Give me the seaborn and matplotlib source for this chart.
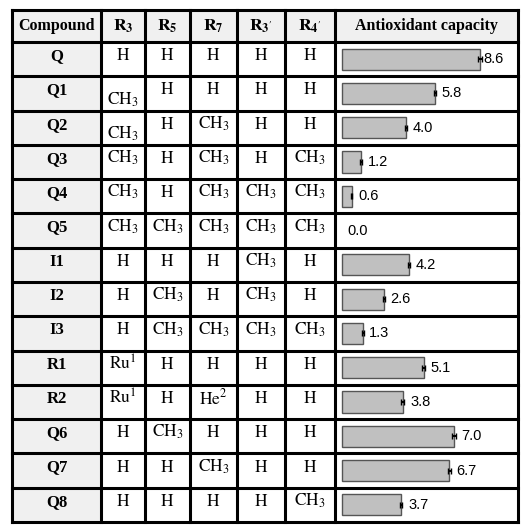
import matplotlib
matplotlib.use("Agg")
import matplotlib.pyplot as plt
import seaborn as sns
import pandas as pd

compounds = ["Q","Q1","Q2","Q3","Q4","Q5","I1","I2","I3","R1","R2","Q6","Q7","Q8"]
H, C = "H", "CH_3"
r3  = [H, C, C, C, C, C, H, H, H, "Ru^1", "Ru^1", H, H, H]
r5  = [H, H, H, H, H, C, H, C, C, H, H, C, H, H]
r7  = [H, H, C, C, C, C, H, H, C, H, "He^2", H, C, H]
r3p = [H, H, H, H, C, C, C, C, C, H, H, H, H, H]
r4p = [H, H, H, C, C, C, H, H, C, H, H, H, H, C]
capacity = [8.6, 5.8, 4.0, 1.2, 0.6, 0.0, 4.2, 2.6, 1.3, 5.1, 3.8, 7.0, 6.7, 3.7]
errors   = [0.12, 0.08, 0.08, 0.05, 0.05, 0.0, 0.08, 0.06, 0.05, 0.1, 0.1, 0.1, 0.1, 0.08]
headers = ["Compound", "R_3", "R_5", "R_7", "R_{3'}", "R_{4'}", "Antioxidant capacity"]

plt.rcParams["mathtext.fontset"] = "stix"
W = 527
fig = plt.figure(figsize=(W/100, W/100), dpi=100)
ax = fig.add_axes([0, 0, 1, 1])
ax.set_xlim(0, W); ax.set_ylim(W, 0); ax.axis("off")

cols = [12, 101, 145, 190, 237, 285, 335, 518]
top, hdr_bot, bot = 10, 42, 522
n = len(compounds)
rh = (bot - hdr_bot) / n
ser = "Liberation Serif"

ax.add_patch(plt.Rectangle((cols[0], top), cols[-1]-cols[0], hdr_bot-top, color="#f0f0f0", zorder=0))
ax.add_patch(plt.Rectangle((cols[0], hdr_bot), cols[1]-cols[0], bot-hdr_bot, color="#f0f0f0", zorder=0))
for x in cols:
    ax.plot([x, x], [top, bot], color="black", lw=2.2, zorder=3)
ys = [top, hdr_bot] + [hdr_bot + rh*(i+1) for i in range(n)]
for y in ys:
    ax.plot([cols[0], cols[-1]], [y, y], color="black", lw=2.2, zorder=3)

for j, h in enumerate(headers):
    xc = (cols[j] + cols[j+1]) / 2
    if j in (0, 6):
        ax.text(xc, (top+hdr_bot)/2, h, ha="center", va="center", fontsize=11.5, fontweight="bold", family=ser)
    else:
        ax.text(xc, (top+hdr_bot)/2, "$\\mathbf{" + h + "}$", ha="center", va="center", fontsize=12.5)

table = [r3, r5, r7, r3p, r4p]
for i in range(n):
    yc = hdr_bot + rh*(i+0.5)
    ax.text((cols[0]+cols[1])/2, yc-3, compounds[i], ha="center", va="center", fontsize=12, fontweight="bold", family=ser)
    for j, col in enumerate(table):
        xc = (cols[j+1] + cols[j+2]) / 2
        v = col[i]
        dy = 6 if (i in (1, 2) and j == 0) else -4
        ax.text(xc, yc+dy, "$\\mathrm{" + v + "}$", ha="center", va="center", fontsize=12.5)

px_unit = 16.0
x0 = 342
bx = fig.add_axes([cols[6]/W, 1-bot/W, (cols[7]-cols[6])/W, (bot-hdr_bot)/W])
df = pd.DataFrame({"compound": compounds, "capacity": capacity})
sns.barplot(data=df, x="capacity", y="compound", ax=bx, color="#c0c0c0",
            edgecolor="#555555", linewidth=1, width=0.62, saturation=1, errorbar=None)
for p in bx.patches:
    if p.get_width() == 0:
        p.set_visible(False)
nz = [i for i, v in enumerate(capacity) if v > 0]
bx.errorbar([capacity[i] for i in nz], nz, xerr=[errors[i] for i in nz], fmt="none",
            ecolor="black", elinewidth=1.5, capsize=2)
bx.set_xlim(-(x0-cols[6])/px_unit, (cols[7]-x0)/px_unit)
bx.set_ylim(n-0.5, -0.5)
bx.axis("off")
for i, v in enumerate(capacity):
    bx.text(v + errors[i] + (0.1 if v > 8 else 0.35), i, f"{v:.1f}", va="center", ha="left", fontsize=10.5, family="Liberation Sans")

fig.savefig("out.png", dpi=100)
